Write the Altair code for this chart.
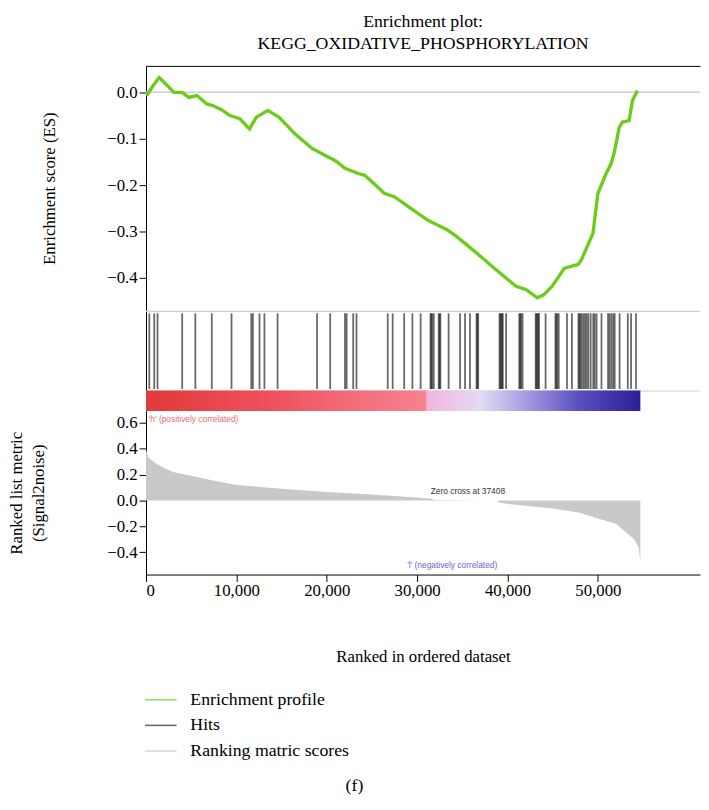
import altair as alt
import pandas as pd

FONT = "Liberation Serif"

# ---- data ----
es_rank = [0, 182, 700, 1456, 2183, 3093, 4003, 4731, 5640, 6732, 7460, 8400, 9279, 10371,
           11463, 12191, 13465, 14739, 16500, 18378, 19833, 21000, 22016, 23472, 24200,
           25300, 26383, 27475, 29300, 31114, 33298, 34389, 36500, 38700, 40940, 42031,
           43305, 44033, 44942, 46298, 47816, 48180, 49454, 50000, 50910, 51456, 51820,
           52366, 52730, 53457, 53821, 54367]
es_value = [-0.006, -0.004, 0.012, 0.032, 0.018, 0.0, 0.0, -0.011, -0.007, -0.025, -0.029,
            -0.038, -0.05, -0.057, -0.079, -0.054, -0.039, -0.054, -0.09, -0.121, -0.136,
            -0.148, -0.164, -0.175, -0.179, -0.198, -0.218, -0.225, -0.25, -0.275, -0.296,
            -0.311, -0.345, -0.382, -0.418, -0.425, -0.443, -0.436, -0.418, -0.379, -0.371,
            -0.361, -0.304, -0.218, -0.175, -0.154, -0.129, -0.075, -0.064, -0.061, -0.018,
            0.004]

hit_rank = [364, 910, 1274, 4003, 5459, 7278, 9461, 11645, 11827, 12555, 13100, 14556,
            18923, 20378, 22016, 22200, 22925, 23289, 26747, 27293, 28567, 29476, 30386,
            31478, 31560, 31660, 31842, 32388, 32480, 32570, 33480, 34753, 35299, 35845,
            36573, 36660, 36755, 39117, 39200, 39300, 39400, 39481, 39845, 41301, 41400,
            41500, 41665, 43120, 43200, 43300, 43400, 43484, 44212, 45304, 45400, 45500,
            45668, 46578, 47124, 47852, 47950, 48050, 48216, 48400, 48580, 48760, 48944,
            49200, 49489, 49650, 49853, 50399, 51127, 51300, 51500, 51700, 51855, 52401,
            53310, 53674, 54220]

metric_rank = [0, 300, 1000, 2000, 3000, 5000, 7000, 10000, 15000, 20000, 25000, 30000,
               31500, 32000, 35000, 37408, 38900, 39000, 40000, 45000, 48000, 50000, 52000,
               53000, 54000, 54500, 54700]
metric_value = [0.39, 0.33, 0.29, 0.25, 0.22, 0.19, 0.16, 0.12, 0.09, 0.066, 0.045, 0.023,
                0.012, 0.004, 0.002, 0.0, 0.0, -0.015, -0.027, -0.062, -0.095, -0.14, -0.18,
                -0.24, -0.3, -0.36, -0.47]

bar_stop_rank = [0, 15000, 22000, 30900, 31100, 37000, 43000, 48000, 54700]
bar_stop_color = ["#e13a3c", "#ee5360", "#f26a78", "#f5838e", "#f2b4dd", "#e2dcf3",
                  "#9a8fdc", "#5a4ec0", "#2b1e98"]

series_names = ["Enrichment profile", "Hits", "Ranking matric scores"]
series_colors = ["#6ccc1a", "#2a2a2a", "#c9c9c9"]

x_ticks = [0, 10000, 20000, 30000, 40000, 50000]
es_ticks = [0.0, -0.1, -0.2, -0.3, -0.4]
metric_ticks = [0.6, 0.4, 0.2, 0.0, -0.2, -0.4]

notes_text = ["'h' (positively correlated)", "Zero cross at 37408", "'l' (negatively correlated)"]
notes_rank = [300, 31500, 28900]
notes_value = [0.63, 0.075, -0.5]
notes_color = ["#e46a78", "#333333", "#6a64cc"]

N_TOTAL = 54700
X_MAX = 61300
W = 562

# ---- tables ----
es_df = pd.DataFrame({"rank": es_rank, "es": es_value, "series": series_names[0]})
zero_df = pd.DataFrame({"es": [0.0]})
hit_df = pd.DataFrame({"rank": hit_rank, "y1": 0.22, "y2": 0.98, "series": series_names[1]})
met_df = pd.DataFrame({"rank": metric_rank, "m": metric_value, "series": series_names[2]})
notes_df = pd.DataFrame({"t": notes_text, "rank": notes_rank, "m": notes_value, "c": notes_color})

xscale = alt.Scale(domain=[0, X_MAX], nice=False, zero=False)
cscale = alt.Scale(domain=series_names, range=series_colors)
color_enc = alt.Color("series:N", scale=cscale, sort=series_names,
                      legend=alt.Legend(title=None, orient="none", legendX=-2, legendY=626,
                                        direction="vertical", symbolType="stroke",
                                        symbolSize=1024, symbolStrokeWidth=1.6,
                                        labelFont=FONT, labelFontSize=18, labelColor="black",
                                        rowPadding=-10.5, labelOffset=13, labelLimit=400))

x_hidden_top = alt.X("rank:Q", scale=xscale,
                     axis=alt.Axis(orient="top", labels=False, ticks=False, title=None,
                                   domain=True, domainColor="black", grid=False))
x_none = alt.X("rank:Q", scale=xscale, axis=None)
y_top = alt.Y("es:Q", scale=alt.Scale(domain=[-0.470, 0.057], nice=False, zero=False),
              axis=alt.Axis(values=es_ticks, format=".1f", title="Enrichment score (ES)",
                            titlePadding=49, labelOverlap=False))
x_bot = alt.X("rank:Q", scale=xscale,
              axis=alt.Axis(values=x_ticks, format=",d", title="Ranked in ordered dataset",
                            titlePadding=51, labelPadding=1, labelOverlap=False))
y_bot = alt.Y("m:Q", scale=alt.Scale(domain=[-0.573, 0.692], nice=False, zero=False),
              axis=alt.Axis(values=metric_ticks, format=".1f", labelOverlap=False,
                            title=["Ranked list metric", "(Signal2noise)"], titlePadding=60))

# top panel: enrichment score
top_zero = alt.Chart(zero_df).mark_rule(color="#d0d0d0", strokeWidth=1.5).encode(y=y_top)
top_line = alt.Chart(es_df).mark_line(strokeWidth=3.4, interpolate="linear").encode(
    x=x_hidden_top, y=y_top, color=color_enc)
top = alt.layer(top_zero, top_line).properties(
    width=W, height=248,
    title=alt.TitleParams("Enrichment plot:", subtitle="KEGG_OXIDATIVE_PHOSPHORYLATION",
                          frame="group", anchor="middle", font=FONT, fontSize=18,
                          fontWeight="normal", color="black", offset=13,
                          subtitleFont=FONT, subtitleFontSize=18, subtitleColor="black",
                          subtitlePadding=4),
)

# middle panel: hits and colour bar
mid_lines = alt.Chart(pd.DataFrame({"g": [0.2, 1.0]})).mark_rule(color="#cfcfcf", strokeWidth=1.2).encode(
    y=alt.Y("g:Q", scale=alt.Scale(domain=[0, 1], nice=False),
            axis=alt.Axis(labels=False, ticks=False, title=None, domain=True,
                          domainColor="black", grid=False)))
mid_hits = alt.Chart(hit_df).mark_rule(strokeWidth=1.8, opacity=0.7).encode(
    x=x_none, y="y1:Q", y2="y2", color=color_enc)
grad = alt.Gradient(gradient="linear", x1=0, x2=1, y1=0, y2=0,
                    stops=[alt.GradientStop(color=c, offset=r / N_TOTAL)
                           for r, c in zip(bar_stop_rank, bar_stop_color)])
mid_bar = alt.Chart(pd.DataFrame({"a": [0], "b": [N_TOTAL], "y1": [0.0], "y2": [0.205]})).mark_rect(
    fill=grad).encode(x=alt.X("a:Q", scale=xscale, axis=None), x2="b", y="y1:Q", y2="y2")
mid = alt.layer(mid_lines, mid_hits, mid_bar).properties(width=W, height=101)

# bottom panel: ranked list metric
bot_area = alt.Chart(met_df).mark_area(opacity=1).encode(
    x=x_bot, y=y_bot, y2=alt.datum(0), color=color_enc)
bot_notes = alt.Chart(notes_df).mark_text(align="left", baseline="middle", font="Liberation Sans",
                                           fontSize=8.5).encode(
    x=x_bot, y=y_bot, text="t:N", fill=alt.Fill("c:N", scale=None))
bot = alt.layer(bot_area, bot_notes).properties(width=W, height=166)

chart = alt.vconcat(top, mid, bot, spacing=0).properties(
    title=alt.TitleParams("(f)", orient="bottom", anchor="middle", font=FONT, fontSize=18,
                          fontWeight="normal", color="black", offset=18),
    padding={"left": 0, "top": 0, "right": 0, "bottom": 0},
).configure_view(stroke=None).configure_axis(
    labelFont=FONT, labelFontSize=17, labelColor="black", titleFont=FONT, titleFontSize=17,
    titleFontWeight="normal", titleColor="black", tickColor="black", domainColor="black",
    tickSize=7, grid=False, titleLineHeight=22,
)

chart.save("out.html", embed_options={"renderer": "svg", "actions": False})
